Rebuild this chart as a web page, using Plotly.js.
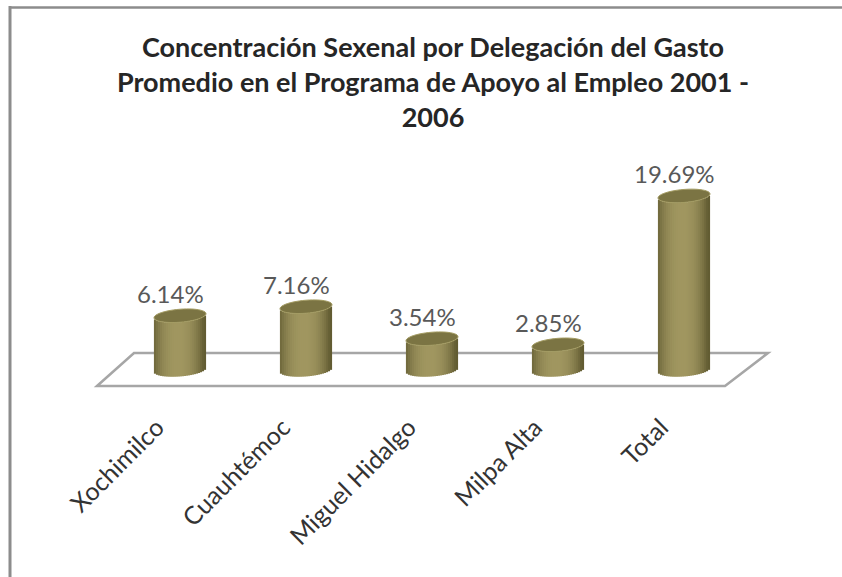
<!DOCTYPE html>
<html><head><meta charset="utf-8">
<script src="https://cdn.plot.ly/plotly-3.0.1.min.js"></script>
<style>html,body{margin:0;padding:0;background:#fff}</style></head>
<body><div id="c" style="width:842px;height:577px"></div>
<script>
const categories = ["Xochimilco","Cuauhtémoc","Miguel Hidalgo","Milpa Alta","Total"];
const values = [6.14,7.16,3.54,2.85,19.69];
const labels = ["6.14%","7.16%","3.54%","2.85%","19.69%"];
const titleText = "Concentración Sexenal por Delegación del Gasto<br>Promedio en el Programa de Apoyo al Empleo 2001 -<br>2006";

const L=90,R=780,T=150,B=390,pxPerX=126,pxPerY=8.84,Y0=370,X0=180;
const hw=26/pxPerX, eh=6.5/pxPerY, tilt=2/pxPerY, N=26;
const xPos=categories.map((_,i)=>i);
function shade(t){
  const k=Math.pow(Math.abs(t+0.08),2.4);
  const a=[160,150,96], b=[98,92,50];
  return 'rgb('+a.map((c,i)=>Math.round(c+(b[i]-c)*Math.min(1,k))).join(',')+')';
}
const traces=[];
for(let s=0;s<N;s++){
  const t=(s+0.5)/N*2-1, w=2*hw/N;
  const base=-eh*Math.sqrt(1-t*t)+tilt*t;
  traces.push({type:'bar',x:xPos,y:values,base:xPos.map(()=>base),width:w*1.08,
    offset:xPos.map(()=>t*hw-w*0.54),
    marker:{color:shade(t),line:{width:0}},hoverinfo:'skip',showlegend:false});
}
function ell(cx,cy,a,b,tl){
  let p='';
  for(let k=0;k<=48;k++){
    const th=k/48*2*Math.PI, c=Math.cos(th), s=Math.sin(th);
    p+=(k?'L':'M')+(cx+a*c)+','+(cy+b*s+tl*c)+' ';
  }
  return p+'Z';
}
const dx=p=>(p-X0)/pxPerX, dy=p=>(Y0-p)/pxPerY;
const shapes=[
 {type:'path',layer:'below',xref:'x',yref:'y',
  path:'M'+dx(97)+','+dy(386)+' L'+dx(134)+','+dy(353)+' L'+dx(768)+','+dy(353)+' L'+dx(725)+','+dy(386)+' Z',
  line:{color:'#a6a6a6',width:2.5},fillcolor:'#ffffff'}
];
values.forEach((v,i)=>{
  shapes.push({type:'path',layer:'above',xref:'x',yref:'y',path:ell(i,v,hw,eh,tilt),
    fillcolor:'#7b7443',line:{color:'#a39b62',width:1}});
});
const annotations=values.map((v,i)=>({x:i,y:v,xref:'x',yref:'y',text:labels[i],showarrow:false,
  xshift:-10,yshift:22,yanchor:'middle',xanchor:'center',font:{family:'Lato, sans-serif',size:24,color:'#595959'}}));
const W=842,H=577,pw=R-L,ph=B-T;
const fx=p=>(p-L)/pw, fy=p=>(B-p)/ph;
shapes.push({type:'line',xref:'paper',yref:'paper',x0:fx(10),x1:fx(10),y0:fy(6),y1:fy(577),line:{color:'#8c8c8c',width:3},layer:'below'});
shapes.push({type:'line',xref:'paper',yref:'paper',x0:fx(9),x1:fx(842),y0:fy(7.5),y1:fy(7.5),line:{color:'#8c8c8c',width:2.5},layer:'below'});
const layout={width:W,height:H,margin:{l:L,r:W-R,t:T,b:H-B,pad:0},
 paper_bgcolor:'#fff',plot_bgcolor:'rgba(0,0,0,0)',barmode:'overlay',showlegend:false,
 title:{text:titleText,x:433/W,xanchor:'center',y:1-57/H,yanchor:'top',font:{family:'Lato, sans-serif',size:27,color:'#262626',weight:'bold'}},
 xaxis:{range:[dx(L),dx(R)],tickmode:'array',tickvals:xPos,ticktext:categories,tickangle:-45,
   showline:false,showgrid:false,zeroline:false,ticks:'',automargin:false,ticklabelstandoff:17,ticklabelshift:-23,
   tickfont:{family:'Lato, sans-serif',size:25,color:'#333333'}},
 yaxis:{range:[dy(B),dy(T)],visible:false,showgrid:false,zeroline:false},
 shapes:shapes,annotations:annotations};
Plotly.newPlot('c',traces,layout,{displayModeBar:false,staticPlot:true});
</script></body></html>
